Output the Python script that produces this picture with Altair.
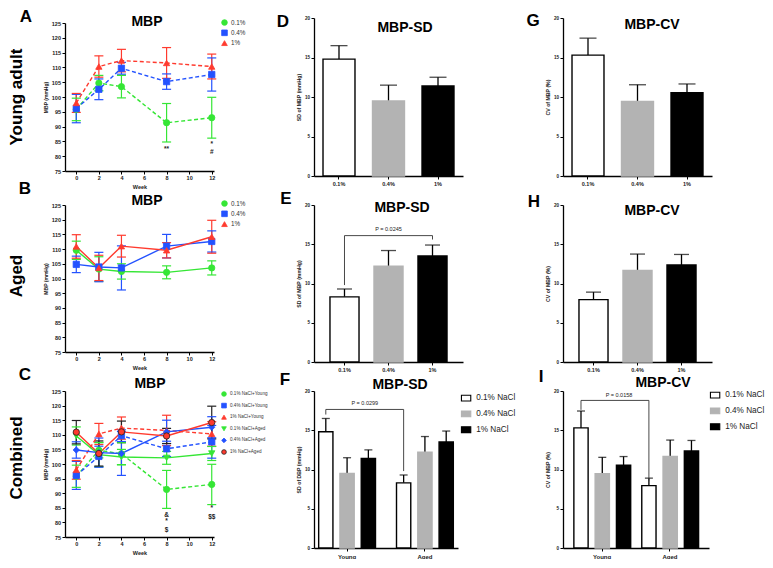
import altair as alt
import pandas as pd

# ---------------- data ----------------
weeks = [0, 2, 4, 8, 12]
week_ticks = [0, 2, 4, 6, 8, 10, 12]
mbp_ticks = [75, 80, 85, 90, 95, 100, 105, 110, 115, 120, 125]
bar_ticks = [0, 5, 10, 15, 20]

names_simple = ["0.1%", "0.4%", "1%"]
names_combined = ["0.1% NaCl+Young", "0.4% NaCl+Young", "1% NaCl+Young",
                  "0.1% NaCl+Aged", "0.4% NaCl+Aged", "1% NaCl+Aged"]

young_01_mean = [95.8, 104.7, 103.5, 91.3, 93.0]
young_01_err = [3.8, 2.6, 3.8, 6.5, 6.9]
young_04_mean = [96.1, 102.6, 109.7, 105.2, 107.6]
young_04_err = [4.8, 3.5, 2.0, 2.6, 5.6]
young_1_mean = [98.0, 110.3, 112.3, 111.5, 110.3]
young_1_err = [3.2, 3.6, 3.8, 5.2, 4.2]

aged_01_mean = [109.6, 103.2, 102.4, 102.1, 103.6]
aged_01_err = [3.1, 4.2, 2.6, 2.2, 2.4]
aged_04_mean = [104.8, 103.9, 103.6, 111.0, 112.6]
aged_04_err = [2.8, 5.0, 7.5, 4.0, 3.6]
aged_1_mean = [110.9, 103.6, 111.0, 109.6, 114.2]
aged_1_err = [4.0, 4.3, 3.7, 2.6, 5.6]

ann_A_week = [8, 12, 12]
ann_A_y = [82.5, 84.2, 81.4]
ann_A_text = ["**", "*", "#"]
ann_C_week = [8, 8, 8, 12, 12]
ann_C_y = [82.6, 80.6, 77.3, 84.9, 81.8]
ann_C_text = ["&", "*", "$", "*", "$$"]

conc = ["0.1%", "0.4%", "1%"]
ages = ["Young", "Aged"]
sd_young = [14.8, 9.5, 11.4]
sd_young_err = [1.7, 2.0, 1.1]
sd_aged = [8.3, 12.2, 13.5]
sd_aged_err = [1.0, 2.0, 1.4]
cv_young = [15.3, 9.45, 10.55]
cv_young_err = [2.15, 2.1, 1.1]
cv_aged = [7.95, 11.65, 12.35]
cv_aged_err = [0.95, 2.1, 1.35]

p_E, bracket_E, ptext_E_y = "P = 0.0245", [9.8, 16.1, 16.1, 15.6], 16.95
p_F, bracket_F, ptext_F_y = "P = 0.0299", [17.0, 17.65, 17.65, 9.8], 18.5
p_I, bracket_I, ptext_I_y = "P = 0.0158", [17.6, 18.8, 18.8, 8.6], 19.55

# ---------------- style ----------------
FONT = "Liberation Sans"
NARROW = "Liberation Sans Narrow, Liberation Sans"
GREEN, BLUE, RED = "#35e635", "#2352ff", "#ff3a2e"
BAR_FILLS = ["white", "#b3b3b3", "black"]
BAR_STROKES = ["black", "#b3b3b3", "black"]


def static_text(txt, px, py, size, weight="bold", font=FONT, angle=0):
    return alt.Chart(pd.DataFrame({"t": [txt]})).mark_text(
        font=font, fontSize=size, fontWeight=weight, color="black",
        align="center", baseline="middle", angle=angle,
    ).encode(x=alt.value(px), y=alt.value(py), text="t:N")


def X_week(field):
    return alt.X(f"{field}:Q", scale=alt.Scale(domain=[-1, 12.2], nice=False, zero=False),
                 axis=alt.Axis(values=week_ticks, title="Week", format="d",
                               labelFontSize=5.5, titleFontSize=5.5, titlePadding=3))


def Y_mbp(field):
    return alt.Y(f"{field}:Q", scale=alt.Scale(domain=[75, 125], nice=False, zero=False),
                 axis=alt.Axis(values=mbp_ticks, title="MBP (mmHg)",
                               labelFontSize=5.5, titleFontSize=5, titlePadding=3))


def line_panel(names, means, errs, fills, strokes, shapes, linecols, dashed,
               W, H, legend, symsize, ann, letter, letter_xy, title_xy,
               rowlabel, rowlabel_xy):
    rows = []
    for n, m, e in zip(names, means, errs):
        for w, mv, ev in zip(weeks, m, e):
            rows.append({"series": n, "week": w, "mbp": mv, "err": ev, "dash": n in dashed})
    df = pd.DataFrame(rows)
    base = alt.Chart(df).transform_calculate(
        lo="datum.mbp - datum.err", hi="datum.mbp + datum.err",
        wl="datum.week - 0.4", wr="datum.week + 0.4")
    fill = alt.Fill("series:N", scale=alt.Scale(domain=names, range=fills), legend=legend)
    stroke = alt.Stroke("series:N", scale=alt.Scale(domain=names, range=strokes), legend=legend)
    shape = alt.Shape("series:N", scale=alt.Scale(domain=names, range=shapes), legend=legend)
    color = alt.Color("series:N", scale=alt.Scale(domain=names, range=linecols), legend=None)

    layers = [
        base.mark_rule(strokeWidth=1.2).encode(x=X_week("week"), y=Y_mbp("lo"), y2="hi:Q", stroke=stroke),
        base.mark_rule(strokeWidth=1.2).encode(x=X_week("wl"), x2="wr:Q", y=Y_mbp("lo"), stroke=stroke),
        base.mark_rule(strokeWidth=1.2).encode(x=X_week("wl"), x2="wr:Q", y=Y_mbp("hi"), stroke=stroke),
    ]
    if any(n in dashed for n in names):
        layers.append(base.transform_filter("datum.dash").mark_line(
            strokeWidth=1.4, strokeDash=[4, 2.5]).encode(x=X_week("week"), y=Y_mbp("mbp"), color=color))
    if any(n not in dashed for n in names):
        layers.append(base.transform_filter("!datum.dash").mark_line(
            strokeWidth=1.4).encode(x=X_week("week"), y=Y_mbp("mbp"), color=color))
    layers.append(base.mark_point(filled=True, size=symsize, opacity=1, strokeWidth=0.8).encode(
        x=X_week("week"), y=Y_mbp("mbp"), fill=fill, stroke=stroke, shape=shape))
    if ann is not None:
        adf = pd.DataFrame({"week": ann[0], "y": ann[1], "label": ann[2]})
        layers.append(alt.Chart(adf).mark_text(fontSize=6.5, fontWeight="bold", color="#222").encode(
            x=X_week("week"), y=Y_mbp("y"), text="label:N"))
    layers.append(static_text(letter, letter_xy[0], letter_xy[1], 17))
    layers.append(static_text("MBP", title_xy[0], title_xy[1], 14))
    layers.append(static_text(rowlabel, rowlabel_xy[0], rowlabel_xy[1], 17, font=NARROW, angle=270))
    return alt.layer(*layers).properties(width=W, height=H)


def Y_bar(field, title):
    return alt.Y(f"{field}:Q", scale=alt.Scale(domain=[0, 20], nice=False, zero=True),
                 axis=alt.Axis(values=bar_ticks, title=title, labelFontSize=4.6,
                               titleFontSize=5.2, titlePadding=3))


def bar_panel(vals, errs, W, H, pi, po, capw, ytitle, title, title_xy, letter, letter_xy,
              bracket=None, ptext=None, ptext_y=None):
    df = pd.DataFrame({"cat": conc, "v": vals, "e": errs})
    xe = alt.X("cat:N", sort=conc, scale=alt.Scale(domain=conc, paddingInner=pi, paddingOuter=po),
               axis=alt.Axis(title=None, labelAngle=0, labelFontSize=5.5, labelPadding=2))
    base = alt.Chart(df).transform_calculate(hi="datum.v + datum.e")
    layers = [
        base.mark_rule(color="black", strokeWidth=1.3).encode(x=xe, y=Y_bar("v", ytitle), y2="hi:Q"),
        base.mark_tick(color="black", orient="horizontal", size=capw, thickness=1.3).encode(
            x=xe, y=Y_bar("hi", ytitle)),
        base.mark_bar(strokeWidth=1.4).encode(
            x=xe, y=Y_bar("v", ytitle),
            fill=alt.Fill("cat:N", scale=alt.Scale(domain=conc, range=BAR_FILLS), legend=None),
            stroke=alt.Stroke("cat:N", scale=alt.Scale(domain=conc, range=BAR_STROKES), legend=None)),
    ]
    if bracket is not None:
        bdf = pd.DataFrame({"cat": [conc[0], conc[0], conc[2], conc[2]], "yv": bracket, "o": [0, 1, 2, 3]})
        layers.append(alt.Chart(bdf).mark_line(color="#333", strokeWidth=0.9).encode(
            x=xe, y=Y_bar("yv", ytitle), order="o:Q"))
        tdf = pd.DataFrame({"cat": [conc[1]], "yv": [ptext_y], "t": [ptext]})
        layers.append(alt.Chart(tdf).mark_text(fontSize=5.5, color="#222").encode(
            x=xe, y=Y_bar("yv", ytitle), text="t:N"))
    layers.append(static_text(letter, letter_xy[0], letter_xy[1], 17))
    layers.append(static_text(title, title_xy[0], title_xy[1], 14))
    return alt.layer(*layers).properties(width=W, height=H)


def group_panel(yv, ye, av, ae, W, H, pi, po, capw, ytitle, title, title_xy, letter, letter_xy,
                legend, bracket, ptext, ptext_y, ptext_dx):
    rows = []
    for age, vv, ee in (("Young", yv, ye), ("Aged", av, ae)):
        for c, v, e in zip(conc, vv, ee):
            rows.append({"age": age, "cat": c, "v": v, "e": e})
    df = pd.DataFrame(rows)
    xe = alt.X("age:N", sort=ages, scale=alt.Scale(domain=ages, paddingInner=pi, paddingOuter=po),
               axis=alt.Axis(title=None, labelAngle=0, labelFontSize=6, labelPadding=2))
    xo = alt.XOffset("cat:N", sort=conc, scale=alt.Scale(domain=conc, paddingInner=0.33, paddingOuter=0))
    base = alt.Chart(df).transform_calculate(hi="datum.v + datum.e")
    layers = [
        base.mark_rule(color="black", strokeWidth=1.3).encode(x=xe, xOffset=xo, y=Y_bar("v", ytitle), y2="hi:Q"),
        base.mark_tick(color="black", orient="horizontal", size=capw, thickness=1.3).encode(
            x=xe, xOffset=xo, y=Y_bar("hi", ytitle)),
        base.mark_bar(strokeWidth=1.4).encode(
            x=xe, xOffset=xo, y=Y_bar("v", ytitle),
            fill=alt.Fill("cat:N", scale=alt.Scale(domain=conc, range=BAR_FILLS), legend=legend),
            stroke=alt.Stroke("cat:N", scale=alt.Scale(domain=conc, range=BAR_STROKES), legend=legend)),
    ]
    bdf = pd.DataFrame({"age": ["Young", "Young", "Aged", "Aged"], "cat": [conc[0]] * 4,
                        "yv": bracket, "o": [0, 1, 2, 3]})
    layers.append(alt.Chart(bdf).mark_line(color="#333", strokeWidth=0.9).encode(
        x=xe, xOffset=xo, y=Y_bar("yv", ytitle), order="o:Q"))
    tdf = pd.DataFrame({"age": ["Young"], "cat": [conc[0]], "yv": [ptext_y], "t": [ptext]})
    layers.append(alt.Chart(tdf).mark_text(fontSize=5.5, color="#222", dx=ptext_dx).encode(
        x=xe, xOffset=xo, y=Y_bar("yv", ytitle), text="t:N"))
    layers.append(static_text(letter, letter_xy[0], letter_xy[1], 17))
    layers.append(static_text(title, title_xy[0], title_xy[1], 14))
    return alt.layer(*layers).properties(width=W, height=H)


def line_legend(x, y, fs, size, rowpad):
    return alt.Legend(orient="none", legendX=x, legendY=y, title=None, labelFontSize=fs,
                      labelColor="#333", labelFontWeight="normal", symbolSize=size,
                      rowPadding=rowpad, labelOffset=3, padding=0, symbolStrokeWidth=0.8)


def bar_legend(x, y):
    return alt.Legend(orient="none", legendX=x, legendY=y, title=None, labelFontSize=8.2,
                      labelColor="#222", labelExpr="datum.label + ' NaCl'",
                      symbolType="M-1.6,-1H1.6V1H-1.6Z", symbolSize=34, symbolStrokeWidth=1.1,
                      rowPadding=3.8, labelOffset=6, padding=0)


# ---------------- panels ----------------
leg_A = line_legend(156, -4, 6.3, 32, 1.3)
panel_A = line_panel(names_simple, [young_01_mean, young_04_mean, young_1_mean],
                     [young_01_err, young_04_err, young_1_err],
                     [GREEN, BLUE, RED], [GREEN, BLUE, RED], ["circle", "square", "triangle-up"],
                     [GREEN, BLUE, RED], names_simple, 149, 148, leg_A, 40,
                     (ann_A_week, ann_A_y, ann_A_text), "A", (-39, -6), (82, -1),
                     "Young adult", (-48, 74))

leg_B = line_legend(156, -5, 6.3, 32, 1.3)
panel_B = line_panel(names_simple, [aged_01_mean, aged_04_mean, aged_1_mean],
                     [aged_01_err, aged_04_err, aged_1_err],
                     [GREEN, BLUE, RED], [GREEN, BLUE, RED], ["circle", "square", "triangle-up"],
                     [GREEN, BLUE, RED], [], 149, 147, leg_B, 40,
                     None, "B", (-40, -16), (82, -4), "Aged", (-48, 71))

leg_C = line_legend(156, 0, 4.6, 22, 3.6)
panel_C = line_panel(names_combined,
                     [young_01_mean, young_04_mean, young_1_mean, aged_01_mean, aged_04_mean, aged_1_mean],
                     [young_01_err, young_04_err, young_1_err, aged_01_err, aged_04_err, aged_1_err],
                     [GREEN, BLUE, RED, GREEN, BLUE, RED],
                     [GREEN, BLUE, RED, GREEN, BLUE, "#222"],
                     ["circle", "square", "triangle-up", "triangle-down", "diamond", "circle"],
                     [GREEN, BLUE, RED, GREEN, BLUE, RED], names_combined[:3], 149, 146, leg_C, 40,
                     (ann_C_week, ann_C_y, ann_C_text), "C", (-40, -16), (85, -7),
                     "Combined", (-48, 67))

panel_D = bar_panel(sd_young, sd_young_err, 149, 158, 0.354, 0.182, 17, "SD of MBP (mmHg)",
                    "MBP-SD", (91, 10), "D", (-31, 4))
panel_E = bar_panel(sd_aged, sd_aged_err, 149, 157, 0.34, 0.363, 15, "SD of MBP (mmHg)",
                    "MBP-SD", (88, 3), "E", (-28, -6), bracket_E, p_E, ptext_E_y)
panel_F = group_panel(sd_young, sd_young_err, sd_aged, sd_aged_err, 144, 157, 0.27, 0.06, 8,
                      "SD of DBP (mmHg)", "MBP-SD", (86, -6), "F", (-29, -11),
                      bar_legend(148, 3), bracket_F, p_F, ptext_F_y, 39)

panel_G = bar_panel(cv_young, cv_young_err, 149, 158, 0.354, 0.182, 17, "CV of MBP (%)",
                    "MBP-CV", (89, 7), "G", (-30, 3))
panel_H = bar_panel(cv_aged, cv_aged_err, 149, 157, 0.34, 0.363, 15, "CV of MBP (%)",
                    "MBP-CV", (89, 6), "H", (-29, -3))
panel_I = group_panel(cv_young, cv_young_err, cv_aged, cv_aged_err, 146, 157, 0.17, 0.16, 8,
                      "CV of MBP (%)", "MBP-CV", (100, -8), "I", (-22, -14),
                      bar_legend(148, 0), bracket_I, p_I, ptext_I_y, 38)

chart = alt.concat(
    panel_A, panel_D, panel_G,
    panel_B, panel_E, panel_H,
    panel_C, panel_F, panel_I,
    columns=3, spacing={"row": 29, "column": 100}, bounds="flush", align="each", center=True,
).resolve_scale(
    x="independent", y="independent", color="independent", fill="independent",
    stroke="independent", shape="independent",
).resolve_legend(
    color="independent", fill="independent", stroke="independent", shape="independent",
).properties(
    padding=0, background="white",
).configure(
    font=FONT,
).configure_axis(
    domainColor="black", domainWidth=1.3, tickColor="black", tickWidth=1, tickSize=3,
    labelFont=FONT, labelFontWeight="bold", labelColor="#222", titleFont=FONT,
    titleFontWeight="bold", titleColor="#222", grid=False, labelPadding=1.5,
).configure_view(stroke=None)

chart.save("out.html", embed_options={"renderer": "svg", "actions": False})
